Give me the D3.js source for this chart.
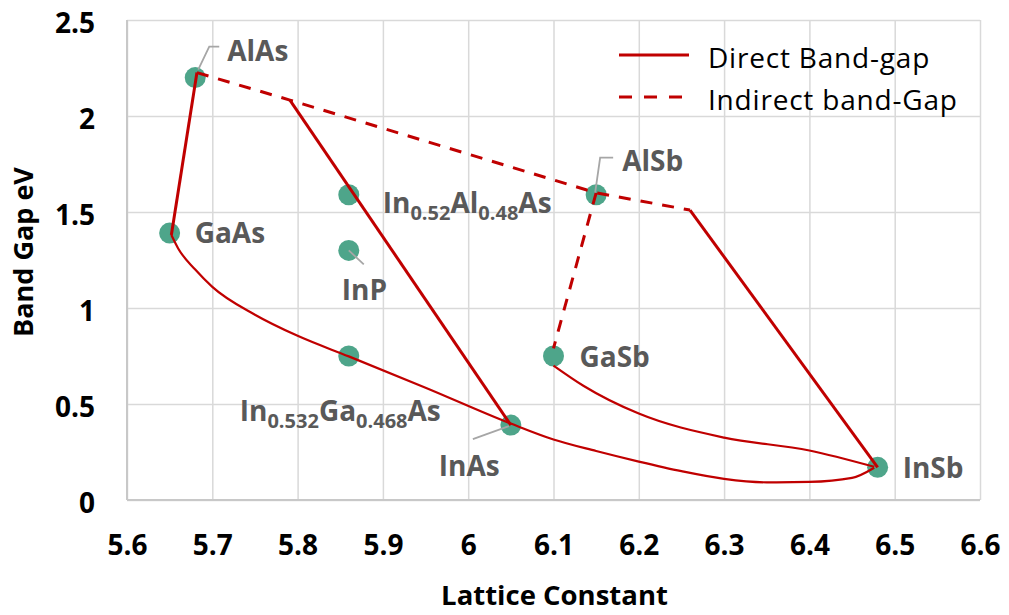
<!DOCTYPE html>
<html>
<head>
<meta charset="utf-8">
<script src="https://cdn.jsdelivr.net/npm/d3@7"></script>
<style>
  html, body { margin: 0; padding: 0; background: #fff; }
  svg { display: block; font-family: "Open Sans", "DejaVu Sans", sans-serif; }
</style>
</head>
<body>
<svg id="chart" width="1009" height="615"></svg>
<script>
// Semiconductor compounds: lattice constant (Å) vs band gap (eV)
const compounds = ["AlAs", "GaAs", "In_{0.52}Al_{0.48}As", "InP", "In_{0.532}Ga_{0.468}As", "InAs", "GaSb", "AlSb", "InSb"];
const latticeConst = [5.68, 5.65, 5.86, 5.86, 5.86, 6.05, 6.10, 6.15, 6.48];
const bandGap = [2.20, 1.39, 1.59, 1.30, 0.75, 0.39, 0.75, 1.59, 0.17];

// Straight direct-gap edges
const directLineX = [[5.682, 5.652], [5.791, 6.05], [6.26, 6.48]];
const directLineY = [[2.226, 1.38], [2.083, 0.39], [1.51, 0.17]];

// Indirect-gap edges (dashed)
const indirectLineX = [[5.682, 5.791, 6.15, 6.26], [6.15, 6.10]];
const indirectLineY = [[2.226, 2.083, 1.60, 1.51], [1.60, 0.79]];

// Ternary bowing curves (direct gap)
const bowingX = [
  [5.652, 5.66, 5.68, 5.70, 5.75, 5.80, 5.86, 5.95, 6.05, 6.10, 6.15, 6.20, 6.25, 6.30, 6.35, 6.40, 6.45, 6.476],
  [6.10, 6.135, 6.20, 6.30, 6.40, 6.476]
];
const bowingY = [
  [1.38, 1.31, 1.20, 1.11, 0.965, 0.855, 0.748, 0.585, 0.398, 0.315, 0.255, 0.20, 0.15, 0.11, 0.092, 0.094, 0.115, 0.168],
  [0.70, 0.595, 0.45, 0.325, 0.258, 0.173]
];

const xTicks = [5.6, 5.7, 5.8, 5.9, 6.0, 6.1, 6.2, 6.3, 6.4, 6.5, 6.6];
const yTicks = [0, 0.5, 1, 1.5, 2, 2.5];
const legendLabels = ["Direct Band-gap", "Indirect band-Gap"];
const xTitle = "Lattice Constant";
const yTitle = "Band Gap eV";

// ---- layout ----
const plot = { left: 127, right: 980, top: 20, bottom: 500 };
const red = "#c00000";
const teal = "#4ea58a";
const labelGray = "#595959";

// label placement relative to each marker (pixels)
const labelPlacement = {
  "AlAs": { dx: 32, dy: -17, leader: [[3, -8], [14, -31], [24, -31]] },
  "GaAs": { dx: 25, dy: 10 },
  "In_{0.52}Al_{0.48}As": { dx: 34, dy: 18 },
  "InP": { dx: -7, dy: 50, leader: [[0, 0], [15, 14]] },
  "In_{0.532}Ga_{0.468}As": { dx: -109, dy: 65 },
  "InAs": { dx: -72, dy: 51, leader: [[-2, 1], [-38, 14]] },
  "GaSb": { dx: 26, dy: 11 },
  "AlSb": { dx: 26, dy: -24, leader: [[-1, -2], [4, -37], [17, -37]] },
  "InSb": { dx: 25, dy: 11 }
};

const svg = d3.select("#chart");
const x = d3.scaleLinear().domain([5.6, 6.6]).range([plot.left, plot.right]);
const y = d3.scaleLinear().domain([0, 2.5]).range([plot.bottom, plot.top]);

// ---- grid + tick labels ----
const gx = svg.append("g")
  .attr("transform", `translate(0,${plot.bottom})`)
  .call(d3.axisBottom(x).tickValues(xTicks)
    .tickSize(-(plot.bottom - plot.top)).tickPadding(35)
    .tickFormat(d => d3.format("")(+d.toFixed(1))));
gx.select(".domain").remove();
gx.selectAll(".tick line").attr("stroke", "#d9d9d9").attr("stroke-width", 1.5);
gx.selectAll(".tick text")
  .attr("font-size", 28).attr("font-weight", 700).attr("fill", "#000")
  .attr("font-family", "'Open Sans', sans-serif");

const gy = svg.append("g")
  .attr("transform", `translate(${plot.left},0)`)
  .call(d3.axisLeft(y).tickValues(yTicks)
    .tickSize(-(plot.right - plot.left)).tickPadding(32)
    .tickFormat(d => String(d)));
gy.select(".domain").remove();
gy.selectAll(".tick line").attr("stroke", "#d9d9d9").attr("stroke-width", 1.5);
gy.selectAll(".tick text")
  .attr("font-size", 28).attr("font-weight", 700).attr("fill", "#000")
  .attr("dy", "0.43em")
  .attr("font-family", "'Open Sans', sans-serif");

// plot frame on left and bottom
svg.append("line").attr("x1", plot.left).attr("x2", plot.left)
  .attr("y1", plot.top).attr("y2", plot.bottom)
  .attr("stroke", "#c8c8c8").attr("stroke-width", 2);
svg.append("line").attr("x1", plot.left).attr("x2", plot.right)
  .attr("y1", plot.bottom).attr("y2", plot.bottom)
  .attr("stroke", "#c8c8c8").attr("stroke-width", 2);

// ---- axis titles ----
svg.append("text")
  .attr("x", (plot.left + plot.right) / 2 + 1).attr("y", 605)
  .attr("text-anchor", "middle")
  .attr("font-size", 27.5).attr("font-weight", 700).attr("fill", "#000")
  .text(xTitle);
svg.append("text")
  .attr("transform", `translate(33,${(plot.top + plot.bottom) / 2 - 8}) rotate(-90)`)
  .attr("text-anchor", "middle")
  .attr("font-size", 27).attr("font-weight", 700).attr("fill", "#000")
  .text(yTitle);

// ---- markers ----
const points = compounds.map((c, i) => ({ name: c, a: latticeConst[i], eg: bandGap[i] }));
svg.append("g").selectAll("circle").data(points).join("circle")
  .attr("cx", d => x(d.a)).attr("cy", d => y(d.eg))
  .attr("r", 10.5).attr("fill", teal);

// ---- lines ----
const line = d3.line().x(d => x(d[0])).y(d => y(d[1]));
const smooth = d3.line().x(d => x(d[0])).y(d => y(d[1])).curve(d3.curveMonotoneX);
const zip = (xs, ys) => xs.map((v, i) => [v, ys[i]]);

const lines = svg.append("g").attr("fill", "none").attr("stroke", red);
bowingX.forEach((xs, k) => {
  lines.append("path").attr("d", smooth(zip(xs, bowingY[k])))
    .attr("stroke-width", 2.2);
});
directLineX.forEach((xs, k) => {
  lines.append("path").attr("d", line(zip(xs, directLineY[k])))
    .attr("stroke-width", 3);
});
indirectLineX.forEach((xs, k) => {
  lines.append("path").attr("d", line(zip(xs, indirectLineY[k])))
    .attr("stroke-width", 3).attr("stroke-dasharray", "12,10");
});

// ---- labels with optional leader lines ----
function addLabel(g, text, lx, ly) {
  const t = g.append("text").attr("x", lx).attr("y", ly)
    .attr("font-size", 28).attr("font-weight", 700).attr("fill", labelGray);
  const parts = text.split(/(_\{[^}]*\})/).filter(s => s.length);
  let lowered = false;
  parts.forEach(p => {
    const sub = p.startsWith("_{");
    const s = t.append("tspan").text(sub ? p.slice(2, -1) : p);
    if (sub) { s.attr("font-size", 20).attr("dy", lowered ? 0 : 7); lowered = true; }
    else if (lowered) { s.attr("dy", -7); lowered = false; }
  });
}
const labels = svg.append("g");
points.forEach(p => {
  const pl = labelPlacement[p.name];
  const cx = x(p.a), cy = y(p.eg);
  if (pl.leader) {
    labels.append("path")
      .attr("d", d3.line()(pl.leader.map(o => [cx + o[0], cy + o[1]])))
      .attr("fill", "none").attr("stroke", "#a6a6a6").attr("stroke-width", 1.8);
  }
  addLabel(labels, p.name, cx + pl.dx, cy + pl.dy);
});

// ---- legend ----
const legend = svg.append("g");
legendLabels.forEach((lab, i) => {
  const ly = 55 + i * 42;
  legend.append("line").attr("x1", 619).attr("x2", 689).attr("y1", ly).attr("y2", ly)
    .attr("stroke", red).attr("stroke-width", 3)
    .attr("stroke-dasharray", i === 1 ? "13,12" : null);
  legend.append("text").attr("x", 708).attr("y", ly + 6)
    .attr("dominant-baseline", "middle")
    .attr("font-size", 28).attr("letter-spacing", 0.8)
    .attr("fill", "#000").text(lab);
});
</script>
</body>
</html>
